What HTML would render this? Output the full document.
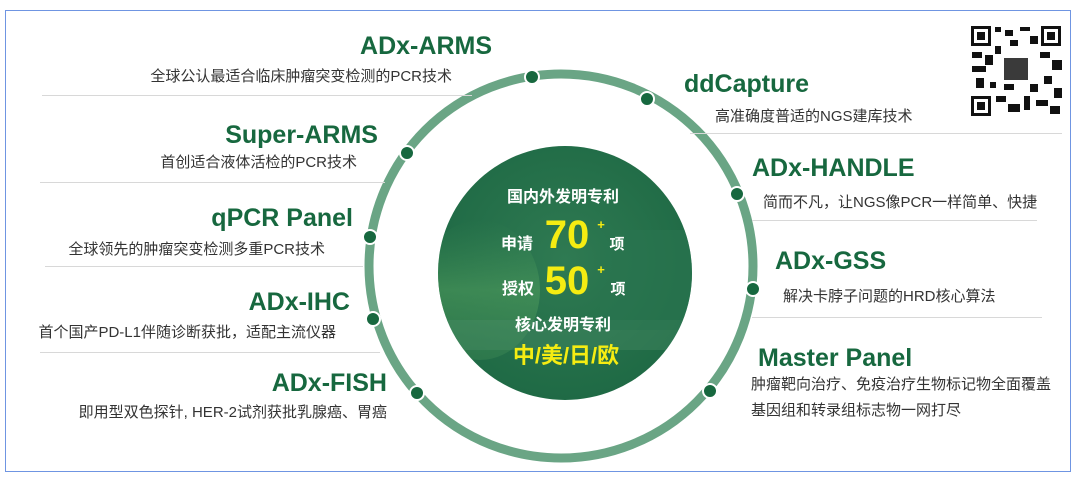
<!DOCTYPE html>
<html><head><meta charset="utf-8"><style>
html,body{margin:0;padding:0;background:#fff;}
body{width:1080px;height:479px;overflow:hidden;position:relative;font-family:"Liberation Sans","Noto Sans CJK SC",sans-serif;}
.t{position:absolute;font-weight:bold;color:#17683f;font-size:25px;white-space:nowrap;line-height:1;}
.s{position:absolute;color:#333;font-size:15px;white-space:nowrap;line-height:1;}
.r{text-align:right;}
.l{position:absolute;height:1px;background:#d8d8d8;}
</style></head><body>
<div style="position:absolute;left:5px;top:10px;width:1064px;height:460px;border:1.5px solid #6f95e2;"></div>
<svg width="1080" height="479" style="position:absolute;left:0;top:0">
<defs>
<radialGradient id="g" cx="50%" cy="45%" r="55%"><stop offset="0" stop-color="#2f7a52"/><stop offset="1" stop-color="#1f6a45"/></radialGradient>
<linearGradient id="tr" x1="0" y1="0" x2="0" y2="1"><stop offset="0" stop-color="#3b8a55" stop-opacity="0"/><stop offset="0.5" stop-color="#4d9a5c" stop-opacity="0.6"/><stop offset="1" stop-color="#3f8a55" stop-opacity="0.4"/></linearGradient>
<clipPath id="c"><circle cx="565" cy="273" r="127"/></clipPath>
</defs>
<circle cx="561" cy="266" r="192" fill="none" stroke="#6aa585" stroke-width="9"/>
<circle cx="565" cy="273" r="127" fill="url(#g)"/>
<g clip-path="url(#c)">
<ellipse cx="480" cy="290" rx="60" ry="70" fill="url(#tr)"/>
<rect x="438" y="320" width="260" height="30" fill="#4d8f6a" opacity="0.35"/>
<rect x="600" y="230" width="95" height="100" fill="#2a7550" opacity="0.6"/>
</g>
<g fill="#17683f" stroke="#fff" stroke-width="2">
<circle cx="532" cy="77" r="7"/><circle cx="647" cy="99" r="7"/><circle cx="407" cy="153" r="7"/>
<circle cx="737" cy="194" r="7"/><circle cx="370" cy="237" r="7"/><circle cx="753" cy="289" r="7"/>
<circle cx="373" cy="319" r="7"/><circle cx="710" cy="391" r="7"/><circle cx="417" cy="393" r="7"/>
</g>
<g font-family="Liberation Sans,Noto Sans CJK SC,sans-serif" font-weight="bold" text-anchor="middle">
<text x="563" y="202" fill="#fff" font-size="16">国内外发明专利</text>
<text x="517" y="249" fill="#fff" font-size="16">申请</text>
<text x="567" y="248" fill="#f5ec12" font-size="40">70</text>
<text x="601" y="229" fill="#f5ec12" font-size="13">+</text>
<text x="617" y="249" fill="#fff" font-size="15">项</text>
<text x="518" y="294" fill="#fff" font-size="16">授权</text>
<text x="567" y="294" fill="#f5ec12" font-size="40">50</text>
<text x="601" y="274" fill="#f5ec12" font-size="13">+</text>
<text x="618" y="294" fill="#fff" font-size="15">项</text>
<text x="563" y="330" fill="#fff" font-size="16">核心发明专利</text>
<text x="566" y="363" fill="#f5ec12" font-size="22">中/美/日/欧</text>
</g>
<g>
<rect x="970" y="25" width="92" height="92" fill="#fff"/>
<g fill="#111">
<rect x="971" y="26" width="20" height="20"/><rect x="1041" y="26" width="20" height="20"/><rect x="971" y="96" width="20" height="20"/>
</g>
<g fill="#fff"><rect x="974" y="29" width="14" height="14"/><rect x="1044" y="29" width="14" height="14"/><rect x="974" y="99" width="14" height="14"/></g>
<g fill="#111"><rect x="977" y="32" width="8" height="8"/><rect x="1047" y="32" width="8" height="8"/><rect x="977" y="102" width="8" height="8"/>
<rect x="995" y="27" width="6" height="5"/><rect x="1005" y="30" width="8" height="6"/><rect x="1020" y="27" width="10" height="4"/><rect x="1030" y="36" width="8" height="8"/>
<rect x="972" y="52" width="10" height="6"/><rect x="985" y="55" width="8" height="10"/><rect x="995" y="46" width="6" height="8"/><rect x="972" y="66" width="14" height="6"/>
<rect x="976" y="78" width="8" height="10"/><rect x="990" y="82" width="6" height="6"/><rect x="1040" y="52" width="10" height="6"/><rect x="1052" y="60" width="10" height="10"/>
<rect x="1044" y="76" width="8" height="8"/><rect x="1054" y="88" width="8" height="10"/><rect x="996" y="96" width="10" height="6"/><rect x="1008" y="104" width="12" height="8"/>
<rect x="1024" y="96" width="6" height="14"/><rect x="1036" y="100" width="12" height="6"/><rect x="1050" y="106" width="10" height="8"/><rect x="1004" y="84" width="10" height="6"/>
<rect x="1030" y="84" width="8" height="8"/><rect x="1010" y="40" width="8" height="6"/></g>
<rect x="1004" y="58" width="24" height="22" fill="#3a3a3a"/>
</g>
</svg>
<div class="t r" style="right:588px;top:34px">ADx-ARMS</div>
<div class="s r" style="right:628px;top:69px">全球公认最适合临床肿瘤突变检测的PCR技术</div>
<div class="l" style="left:42px;top:95px;width:430px"></div>
<div class="t r" style="right:702px;top:123px">Super-ARMS</div>
<div class="s r" style="right:723px;top:155px">首创适合液体活检的PCR技术</div>
<div class="l" style="left:40px;top:182px;width:345px"></div>
<div class="t r" style="right:727px;top:206px">qPCR Panel</div>
<div class="s r" style="right:755px;top:242px">全球领先的肿瘤突变检测多重PCR技术</div>
<div class="l" style="left:45px;top:266px;width:318px"></div>
<div class="t r" style="right:730px;top:290px">ADx-IHC</div>
<div class="s r" style="right:744px;top:325px">首个国产PD-L1伴随诊断获批，适配主流仪器</div>
<div class="l" style="left:40px;top:352px;width:340px"></div>
<div class="t r" style="right:693px;top:371px">ADx-FISH</div>
<div class="s r" style="right:693px;top:405px">即用型双色探针, HER-2试剂获批乳腺癌、胃癌</div>

<div class="t" style="left:684px;top:72px">ddCapture</div>
<div class="s" style="left:715px;top:109px">高准确度普适的NGS建库技术</div>
<div class="l" style="left:690px;top:133px;width:372px"></div>
<div class="t" style="left:752px;top:156px">ADx-HANDLE</div>
<div class="s" style="left:763px;top:195px">简而不凡，让NGS像PCR一样简单、快捷</div>
<div class="l" style="left:752px;top:220px;width:285px"></div>
<div class="t" style="left:775px;top:249px">ADx-GSS</div>
<div class="s" style="left:783px;top:289px">解决卡脖子问题的HRD核心算法</div>
<div class="l" style="left:752px;top:317px;width:290px"></div>
<div class="t" style="left:758px;top:346px">Master Panel</div>
<div class="s" style="left:751px;top:377px">肿瘤靶向治疗、免疫治疗生物标记物全面覆盖</div>
<div class="s" style="left:751px;top:403px">基因组和转录组标志物一网打尽</div>
</body></html>
